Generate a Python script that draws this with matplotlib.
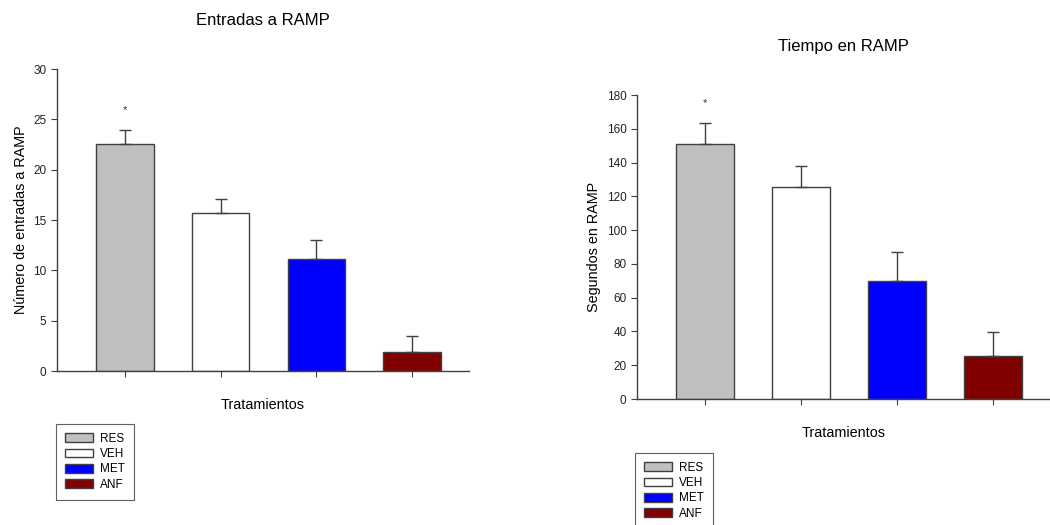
import numpy as np
import matplotlib.pyplot as plt

plt.rcParams['font.family'] = ['Liberation Sans', 'DejaVu Sans']

# Data
groups = ["RES", "VEH", "MET", "ANF"]
colors = ["#c0c0c0", "#ffffff", "#0000ff", "#800000"]

entradas = [22.6, 15.7, 11.1, 1.9]
entradas_err = [1.3, 1.4, 1.9, 1.6]

tiempo = [151.2, 125.5, 69.9, 25.3]
tiempo_err = [12.2, 12.3, 17.4, 14.6]

x = np.arange(len(groups))
edge = "#404040"

fig = plt.figure(figsize=(10.5, 5.25), dpi=100)
ax1 = fig.add_axes([0.0543, 0.2933, 0.392, 0.5752])
ax2 = fig.add_axes([0.6067, 0.240, 0.393, 0.579])


def draw(ax, vals, errs, ylim, yticks, ylabel, title, star_y):
    bars = ax.bar(x, vals, width=0.6, color=colors, edgecolor=edge, linewidth=1,
                  yerr=[np.zeros(len(vals)), errs],
                  error_kw=dict(ecolor=edge, elinewidth=1, capsize=4, capthick=1))
    ax.text(0, star_y, "*", ha="center", va="center", fontsize=8, color="#333333")
    ax.set_xlim(-0.71, 3.59)
    ax.set_ylim(*ylim)
    ax.set_yticks(yticks)
    ax.set_xticks(x)
    ax.set_xticklabels([])
    ax.spines["top"].set_visible(False)
    ax.spines["right"].set_visible(False)
    for s in ("left", "bottom"):
        ax.spines[s].set_color(edge)
        ax.spines[s].set_linewidth(1)
    ax.tick_params(axis="y", direction="out", length=4, width=0.8, colors=edge,
                   labelsize=8.5, labelcolor="#222222")
    ax.tick_params(axis="x", direction="out", length=4, width=0.8, colors=edge)
    ax.set_ylabel(ylabel, fontsize=10.4)
    ax.set_xlabel("Tratamientos", fontsize=10.4, labelpad=12)
    ax.set_title(title, fontsize=12, pad=32)
    return bars


bars1 = draw(ax1, entradas, entradas_err, (0, 30), np.arange(0, 31, 5),
             "Número de entradas a RAMP", "Entradas a RAMP", 25.9)
bars2 = draw(ax2, tiempo, tiempo_err, (0, 180), np.arange(0, 181, 20),
             "Segundos en RAMP", "Tiempo en RAMP", 175)

for bars, anchor in ((bars1, (56 / 1050, 1 - 424 / 525)), (bars2, (635 / 1050, 1 - 453 / 525))):
    leg = fig.legend(bars.patches, groups, loc="upper left", bbox_to_anchor=anchor,
                     borderaxespad=0, fancybox=False, edgecolor="#606060",
                     fontsize=8.5, handlelength=2.4, handleheight=0.75,
                     labelspacing=0.28, handletextpad=0.6, borderpad=0.75,
                     framealpha=1)
    leg.get_frame().set_linewidth(0.8)

fig.savefig("out.png", dpi=100)
